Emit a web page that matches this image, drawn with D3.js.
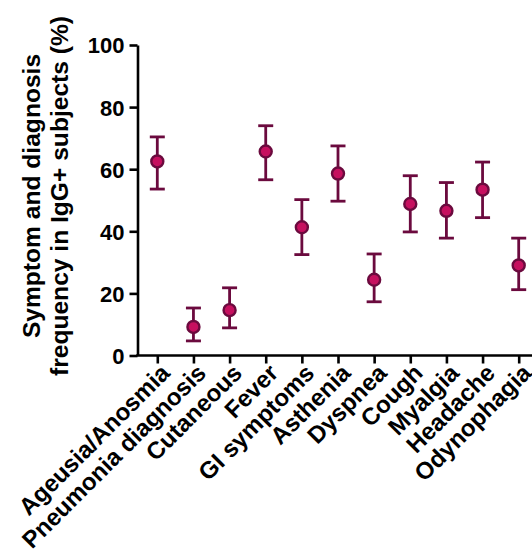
<!DOCTYPE html>
<html>
<head>
<meta charset="utf-8">
<script src="https://cdn.jsdelivr.net/npm/d3@7"></script>
<style>
  body { margin: 0; background: #fff; }
  svg { display: block; font-family: "Liberation Sans", Arial, sans-serif; font-weight: bold; }
</style>
</head>
<body>
<svg width="532" height="553"></svg>
<script>
// symptoms, mean frequency (%) and 95% CI
const categories = ["Ageusia/Anosmia", "Pneumonia diagnosis", "Cutaneous", "Fever", "GI symptoms",
  "Asthenia", "Dyspnea", "Cough", "Myalgia", "Headache", "Odynophagia"];
const means = [62.5, 9.2, 14.6, 65.7, 41.3, 58.6, 24.4, 48.8, 46.6, 53.4, 29.0];
const lower = [53.6, 4.7, 8.9, 56.6, 32.5, 49.7, 17.3, 39.8, 37.8, 44.4, 21.2];
const upper = [70.4, 15.3, 21.8, 74.0, 50.2, 67.5, 32.7, 57.9, 55.7, 62.3, 37.8];
const yTicks = [0, 20, 40, 60, 80, 100];

let svg = d3.select("svg");
const x0 = 137.5, yBase = 355.5;

const x = d3.scalePoint()
    .domain(categories)
    .range([157.3, 518.7]);

const y = d3.scaleLinear()
    .domain([0, 100])
    .range([yBase, 45]);

const dark = "#6b0a3e", fill = "#c6105f";

// y axis
const yAxis = svg.append("g")
    .attr("transform", "translate(" + x0 + ",0)")
    .call(d3.axisLeft(y).tickValues(yTicks).tickSize(8).tickSizeOuter(0).tickPadding(5));
yAxis.select(".domain").attr("stroke-width", 2.6);
yAxis.selectAll(".tick line").attr("stroke-width", 2.6);
yAxis.selectAll("text").attr("font-size", 22).attr("fill", "#000").attr("dy", "0.36em")
    .attr("font-family", "Liberation Sans, Arial, sans-serif").attr("font-weight", "bold");

// x axis
const xAxis = svg.append("g")
    .attr("transform", "translate(0," + yBase + ")")
    .call(d3.axisBottom(x).tickSize(8).tickSizeOuter(0).tickFormat(""));
xAxis.select(".domain").remove();
xAxis.selectAll(".tick line").attr("stroke-width", 2.6);
svg.append("line")
    .attr("x1", x0 - 1.3).attr("x2", 532)
    .attr("y1", yBase).attr("y2", yBase)
    .attr("stroke", "#000").attr("stroke-width", 2.6);

svg.append("g").selectAll("text")
    .data(categories)
  .enter().append("text")
    .attr("transform", d => "translate(" + (x(d) + 8) + "," + (yBase + 13) + ") rotate(-45)")
    .attr("text-anchor", "end")
    .attr("dy", "0.35em")
    .attr("font-size", 24)
    .text(d => d);

// y title
const title = svg.append("text")
    .attr("transform", "translate(0," + 196 + ") rotate(-90)")
    .attr("text-anchor", "middle")
    .attr("font-size", 24.6);
title.append("tspan").attr("x", 0).attr("y", 40).text("Symptom and diagnosis");
title.append("tspan").attr("x", 0).attr("y", 68).text("frequency in IgG+ subjects (%)");

// error bars and points
const pts = svg.append("g").selectAll("g")
    .data(categories)
  .enter().append("g");

pts.append("line")
    .attr("x1", d => x(d)).attr("x2", d => x(d))
    .attr("y1", (d, i) => y(lower[i])).attr("y2", (d, i) => y(upper[i]))
    .attr("stroke", dark).attr("stroke-width", 2.8);
[lower, upper].forEach(arr => {
  pts.append("line")
      .attr("x1", d => x(d) - 7.5).attr("x2", d => x(d) + 7.5)
      .attr("y1", (d, i) => y(arr[i])).attr("y2", (d, i) => y(arr[i]))
      .attr("stroke", dark).attr("stroke-width", 2.8);
});
pts.append("circle")
    .attr("cx", d => x(d))
    .attr("cy", (d, i) => y(means[i]))
    .attr("r", 6)
    .attr("fill", fill)
    .attr("stroke", dark)
    .attr("stroke-width", 2.4);
</script>
</body>
</html>
